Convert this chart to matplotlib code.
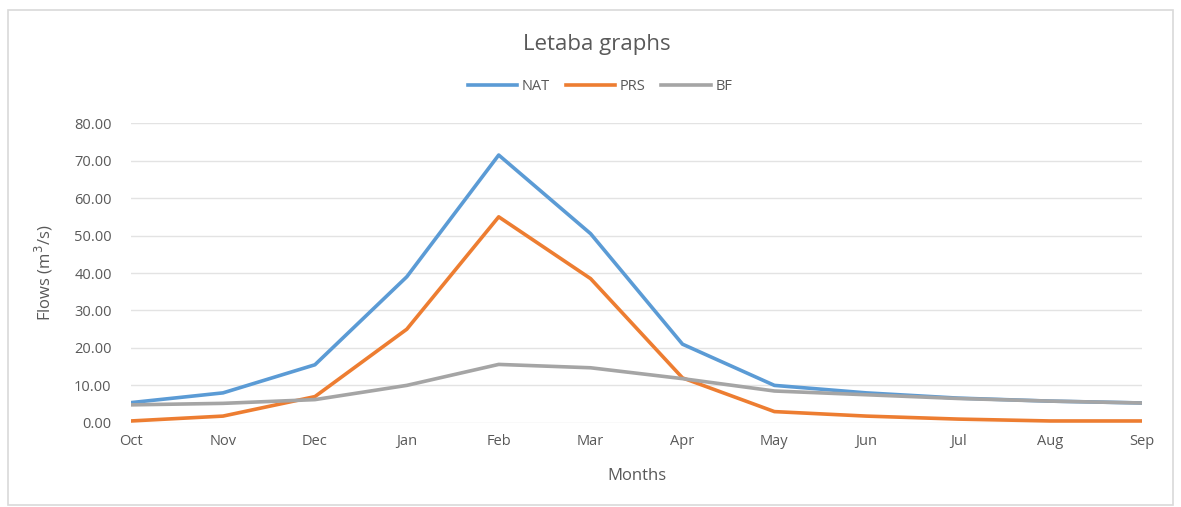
import matplotlib.pyplot as plt
from matplotlib.patches import Rectangle

plt.rcParams['font.family'] = ['Open Sans', 'DejaVu Sans']

months = ['Oct', 'Nov', 'Dec', 'Jan', 'Feb', 'Mar', 'Apr', 'May', 'Jun', 'Jul', 'Aug', 'Sep']
nat = [5.4, 8.0, 15.5, 39.0, 71.5, 50.5, 21.0, 10.0, 8.0, 6.6, 5.8, 5.3]
prs = [0.5, 1.8, 7.0, 25.0, 55.0, 38.5, 12.0, 3.0, 1.8, 1.0, 0.5, 0.5]
bf = [4.8, 5.2, 6.2, 10.0, 15.6, 14.7, 11.8, 8.5, 7.5, 6.5, 5.8, 5.3]

fig = plt.figure(figsize=(11.81, 5.07), dpi=100)
fig.patches.append(Rectangle((0.007, 0.004), 0.986, 0.976, transform=fig.transFigure,
                             fill=False, edgecolor='#d9d9d9', linewidth=1.2))

ax = fig.add_axes([0.111, 0.166, 0.856, 0.591])
x = range(len(months))
ax.plot(x, nat, color='#5B9BD5', lw=2.6, label='NAT')
ax.plot(x, prs, color='#ED7D31', lw=2.6, label='PRS')
ax.plot(x, bf, color='#A5A5A5', lw=2.6, label='BF')

ax.set_xlim(0, len(months) - 1)
ax.set_ylim(0, 80)
ax.set_yticks(range(0, 81, 10))
ax.set_yticklabels([f'{v:.2f}' for v in range(0, 81, 10)])
ax.set_xticks(list(x))
ax.set_xticklabels(months)
ax.grid(axis='y', color='#e3e3e3', lw=1)
ax.set_axisbelow(True)
for s in ax.spines.values():
    s.set_visible(False)
ax.tick_params(length=0, colors='#595959', labelsize=10.5)
ax.tick_params(axis='x', pad=8)
ax.tick_params(axis='y', pad=14)

ax.set_xlabel('Months', fontsize=12, color='#595959', labelpad=14)
ax.set_ylabel('Flows (m$^3$/s)', fontsize=12, color='#595959', labelpad=14)

fig.text(0.505, 0.913, 'Letaba graphs', ha='center', va='center', fontsize=16, color='#595959')
fig.legend(*ax.get_legend_handles_labels(), loc='center', bbox_to_anchor=(0.508, 0.83), ncol=3,
           frameon=False, fontsize=10.5, labelcolor='#595959', handlelength=3.4,
           columnspacing=1.1, handletextpad=0.3)

fig.savefig('out.png', dpi=100)
